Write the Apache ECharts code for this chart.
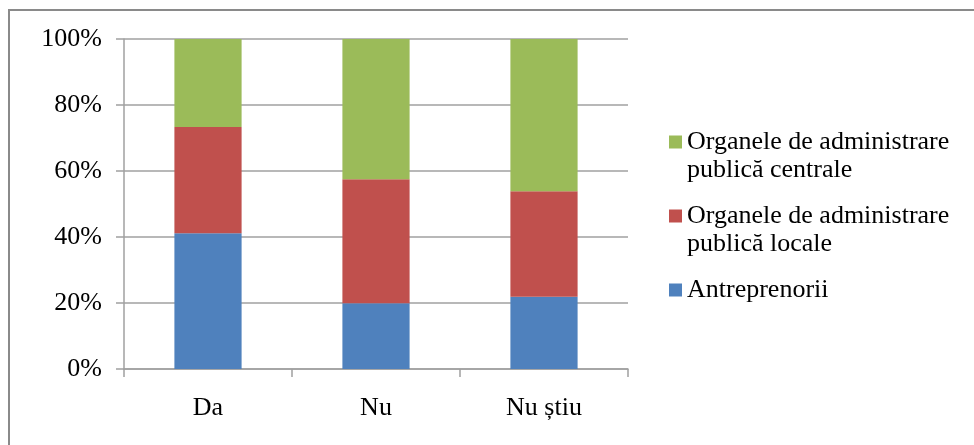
<!DOCTYPE html>
<html>
<head>
<meta charset="utf-8">
<script src="https://cdn.jsdelivr.net/npm/echarts@6/dist/echarts.min.js"></script>
<style>
html,body{margin:0;padding:0;background:#fff;}
#c{width:974px;height:445px;}
</style>
</head>
<body>
<div id="c"></div>
<script>
const categories = ['Da', 'Nu', 'Nu știu'];
const seriesNames = ['Antreprenorii', 'Organele de administrare\npublică locale', 'Organele de administrare\npublică centrale'];
const antreprenorii = [41.1, 19.9, 21.9];
const localeVals = [32.2, 37.6, 32.0];
const centraleVals = [26.7, 42.5, 46.1];
const yTicks = [0, 20, 40, 60, 80, 100];

const colors = ['#4F81BD', '#C0504D', '#9BBB59'];
const FONT = 'Liberation Serif';

const chart = echarts.init(document.getElementById('c'));

function mkLegend(name, top, twoLine) {
  return {
    data: [name],
    orient: 'vertical',
    left: 669,
    top: top,
    padding: 0,
    itemWidth: 13,
    itemHeight: 13,
    itemGap: 0,
    icon: 'rect',
    selectedMode: false,
    formatter: function (n) { return twoLine ? '\n' + n : n; },
    textStyle: {
      fontFamily: FONT,
      fontSize: 26,
      color: '#000',
      lineHeight: 28
    }
  };
}

chart.setOption({
  animation: false,
  color: colors,
  grid: { left: 124, right: 346, top: 39, bottom: 76 },
  legend: [
    mkLegend(seriesNames[2], 100, true),
    mkLegend(seriesNames[1], 174, true),
    mkLegend(seriesNames[0], 276, false)
  ],
  graphic: [{
    type: 'rect',
    shape: { x: 9, y: 10, width: 990, height: 460 },
    style: { fill: 'none', stroke: '#8a8a8a', lineWidth: 2 },
    silent: true
  }],
  xAxis: {
    type: 'category',
    data: categories,
    axisLine: { lineStyle: { color: '#a0a0a0', width: 1.5 } },
    axisTick: { show: true, length: 8, lineStyle: { color: '#a0a0a0', width: 1.5 } },
    axisLabel: { fontFamily: FONT, fontSize: 26, color: '#000', margin: 26 }
  },
  yAxis: {
    type: 'value',
    min: 0,
    max: 100,
    interval: 20,
    axisLine: { show: true, lineStyle: { color: '#a0a0a0', width: 1.5 } },
    axisTick: { show: true, length: 8, lineStyle: { color: '#a0a0a0', width: 1.5 } },
    splitLine: { show: true, lineStyle: { color: '#a0a0a0', width: 1.5 } },
    axisLabel: {
      fontFamily: FONT, fontSize: 26, color: '#000', margin: 22,
      formatter: function (v) { return yTicks.indexOf(v) >= 0 ? v + '%' : ''; }
    }
  },
  series: [
    { name: seriesNames[0], type: 'bar', stack: 's', barWidth: '40%', data: antreprenorii },
    { name: seriesNames[1], type: 'bar', stack: 's', barWidth: '40%', data: localeVals },
    { name: seriesNames[2], type: 'bar', stack: 's', barWidth: '40%', data: centraleVals }
  ]
});
</script>
</body>
</html>
